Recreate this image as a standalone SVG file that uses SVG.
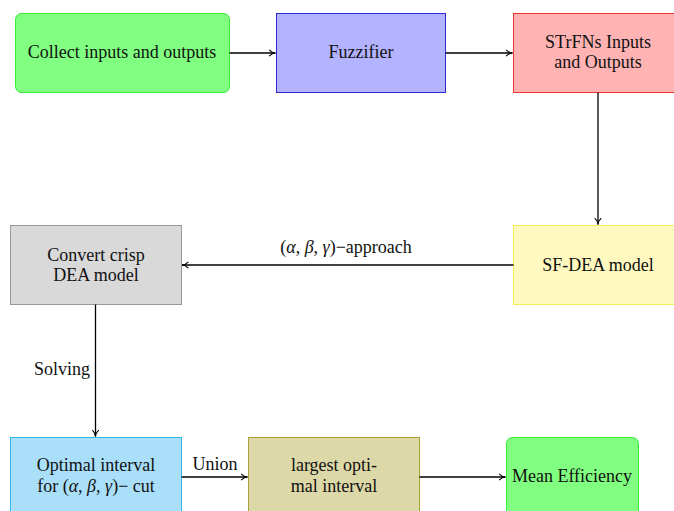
<svg xmlns="http://www.w3.org/2000/svg" width="674" height="511" viewBox="0 0 674 511">
<defs>
<marker id="arr" viewBox="0 0 10 10" refX="9" refY="5" markerWidth="8" markerHeight="8" markerUnits="userSpaceOnUse" orient="auto">
<path d="M1,1 Q5,5 9,5 Q5,5 1,9" fill="none" stroke="#000" stroke-width="1.3"/>
</marker>
</defs>
<style>
text{font-family:"Liberation Serif","DejaVu Serif",serif;font-size:18px;fill:#111;text-anchor:middle}
.c{stroke:#000;stroke-width:1.3;fill:none;marker-end:url(#arr)}
</style>
<rect width="674" height="511" fill="#fff"/>
<g id="collect">
<rect x="15.5" y="13.5" width="214" height="79" rx="6" fill="#80ff80" stroke="#33ee33"/>
<text x="122" y="58">Collect inputs and outputs</text>
</g>
<g id="fuzzifier">
<rect x="276.5" y="13.5" width="169" height="79" fill="#b3b3ff" stroke="#2a2ad0"/>
<text x="361" y="58">Fuzzifier</text>
</g>
<g id="strfns">
<rect x="513.5" y="13.5" width="170" height="79" fill="#ffb3b3" stroke="#ee3333"/>
<text x="598" y="47.5">STrFNs Inputs</text>
<text x="598" y="68">and Outputs</text>
</g>
<g id="sfdea">
<rect x="513.5" y="225.5" width="170" height="79" fill="#fff9bf" stroke="#eeee55"/>
<text x="598" y="271">SF-DEA model</text>
</g>
<g id="convert">
<rect x="10.5" y="225.5" width="171" height="79" fill="#d9d9d9" stroke="#999"/>
<text x="96" y="261">Convert crisp</text>
<text x="96" y="281">DEA model</text>
</g>
<g id="optimal">
<rect x="10.5" y="437.5" width="171" height="79" fill="#aadff9" stroke="#33b5ee"/>
<text x="96" y="471">Optimal interval</text>
<text x="96" y="492">for (<tspan font-style="italic">α</tspan>, <tspan font-style="italic">β</tspan>, <tspan font-style="italic">γ</tspan>)− cut</text>
</g>
<g id="largest">
<rect x="248.5" y="437.5" width="171" height="79" fill="#ddd8a8" stroke="#aaa03a"/>
<text x="334" y="471">largest opti-</text>
<text x="334" y="492">mal interval</text>
</g>
<g id="mean">
<rect x="506.5" y="437.5" width="132" height="79" rx="6" fill="#80ff80" stroke="#33ee33"/>
<text x="572" y="482">Mean Efficiency</text>
</g>
<g id="connectors">
<line class="c" x1="229.5" y1="53" x2="275.5" y2="53"/>
<line class="c" x1="445.5" y1="53" x2="512.5" y2="53"/>
<line class="c" x1="598" y1="92.5" x2="598" y2="224.5"/>
<line class="c" x1="513.5" y1="265" x2="182" y2="265"/>
<line class="c" x1="95.5" y1="304.5" x2="95.5" y2="436.5"/>
<line class="c" x1="181.5" y1="477" x2="247.5" y2="477"/>
<line class="c" x1="419.5" y1="477" x2="505.5" y2="477"/>
<text x="346" y="253">(<tspan font-style="italic">α</tspan>, <tspan font-style="italic">β</tspan>, <tspan font-style="italic">γ</tspan>)−approach</text>
<text x="62" y="375">Solving</text>
<text x="215" y="470">Union</text>
</g>
</svg>
